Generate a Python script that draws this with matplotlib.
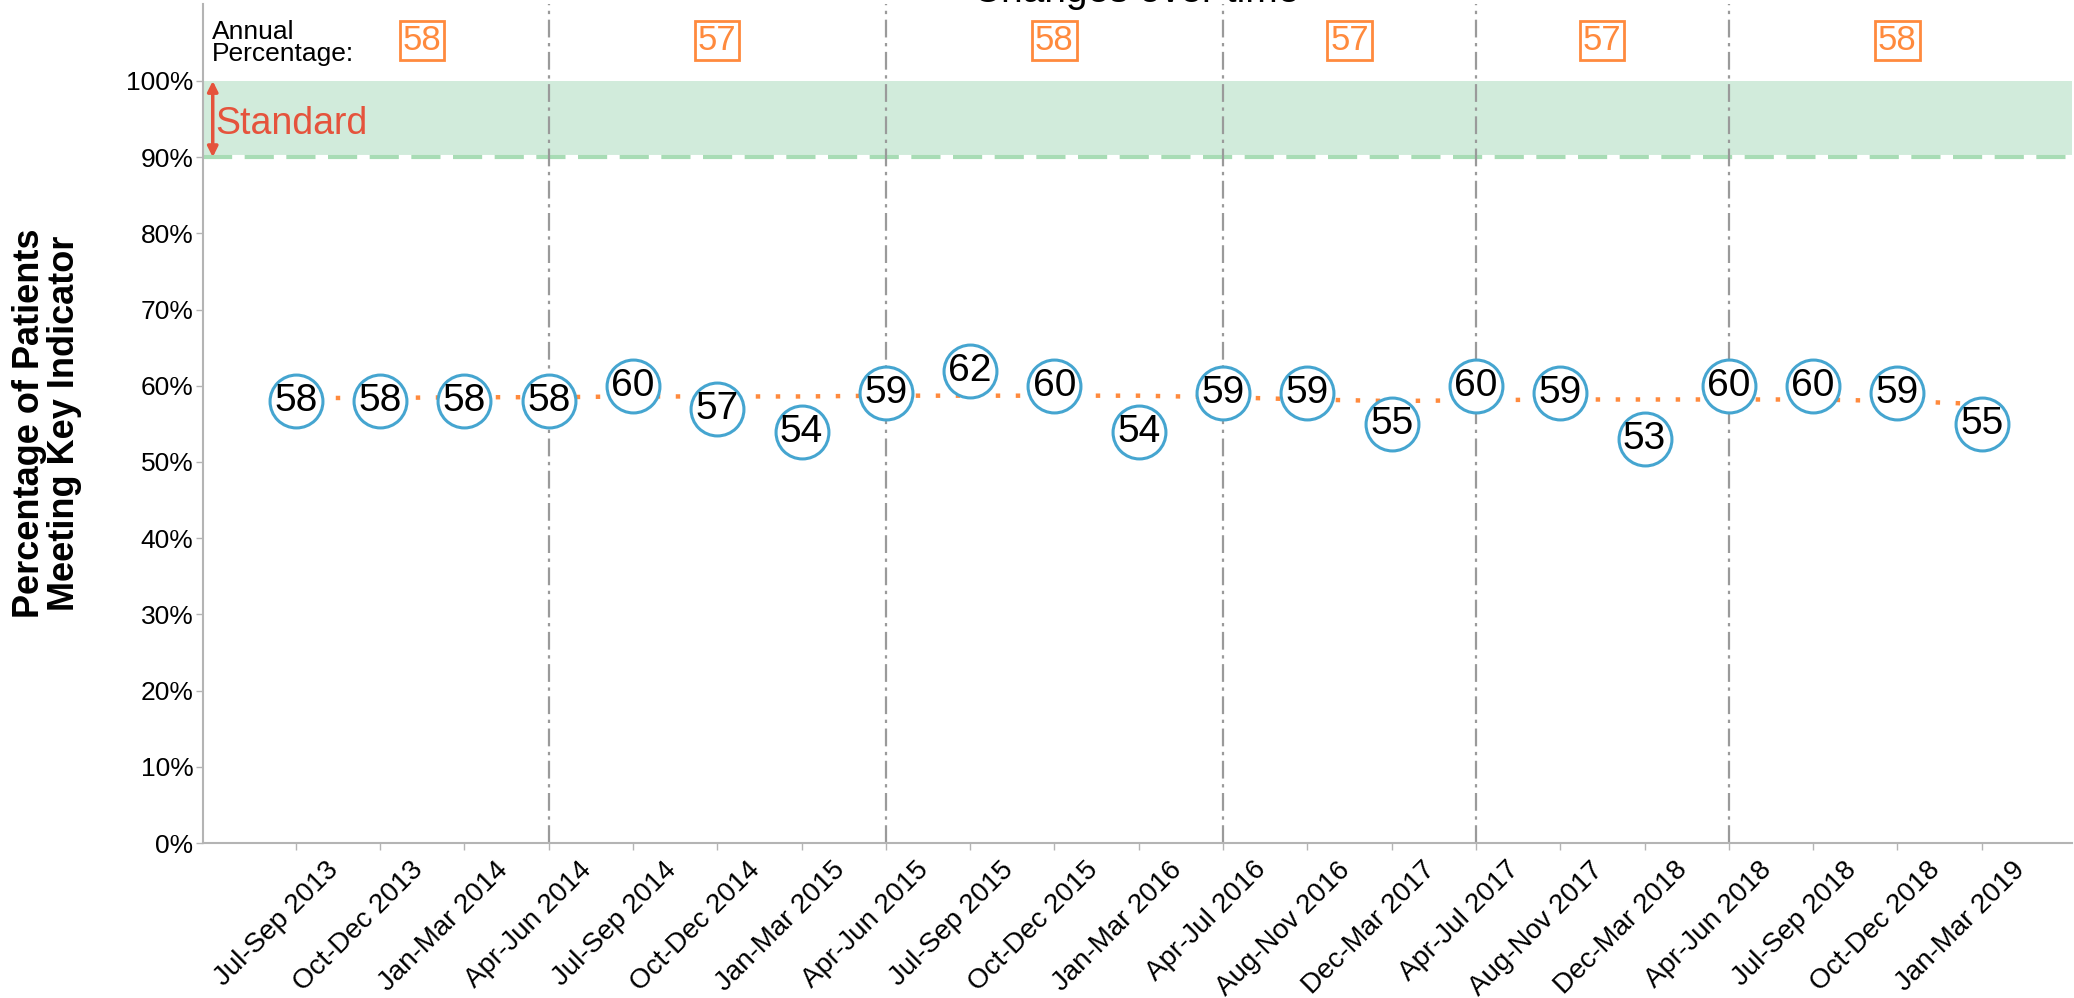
import matplotlib.pyplot as plt
import matplotlib.transforms as mtransforms

plt.rcParams['font.family'] = ['Liberation Sans', 'DejaVu Sans']

# === data ===
quarters = ['Jul-Sep 2013', 'Oct-Dec 2013', 'Jan-Mar 2014', 'Apr-Jun 2014',
            'Jul-Sep 2014', 'Oct-Dec 2014', 'Jan-Mar 2015', 'Apr-Jun 2015',
            'Jul-Sep 2015', 'Oct-Dec 2015', 'Jan-Mar 2016', 'Apr-Jul 2016',
            'Aug-Nov 2016', 'Dec-Mar 2017', 'Apr-Jul 2017', 'Aug-Nov 2017',
            'Dec-Mar 2018', 'Apr-Jun 2018', 'Jul-Sep 2018', 'Oct-Dec 2018',
            'Jan-Mar 2019']
values = [58, 58, 58, 58, 60, 57, 54, 59, 62, 60, 54, 59, 59, 55, 60, 59, 53, 60, 60, 59, 55]
trend = [58.4, 58.4, 58.5, 58.5, 58.6, 58.6, 58.6, 58.7, 58.7, 58.7, 58.7,
         58.5, 58.2, 58.0, 58.1, 58.2, 58.2, 58.2, 58.2, 58.0, 57.6]
year_breaks = [3, 7, 11, 14, 17]          # index of first quarter of each new year
annual_values = [58, 57, 58, 57, 57, 58]
standard_low, standard_high = 90, 100

BLUE = '#45a5d0'
ORANGE = '#ff8a3d'
RED = '#e5533c'
GREEN_FILL = '#d1ebdb'
GREEN_LINE = '#a8dcb5'
GREY = '#9a9a9a'
AXIS_GREY = '#b4b4b4'

fig = plt.figure(figsize=(20.74, 9.98), dpi=100)
ax = fig.add_axes([0.0979, 0.1553, 0.9011, 0.8407])
x = list(range(len(quarters)))

# standard band
ax.axhspan(standard_low, standard_high, color=GREEN_FILL, lw=0, zorder=0)
ax.axhline(standard_low, color='white', lw=3, zorder=1)
ax.axhline(standard_low, color=GREEN_LINE, lw=3, dashes=(7, 3), zorder=1.1)

# year separators
for b in year_breaks:
    ax.axvline(b, color=GREY, lw=1.6, dashes=(8, 2.5, 1.5, 2.5), zorder=2)

# trend + points
ax.plot(x, trend, color=ORANGE, lw=3.2, dashes=(1, 3.5), dash_capstyle='butt', zorder=3)
ax.scatter(x, values, s=1450, facecolor='white', edgecolor=BLUE, linewidth=2.2, zorder=4)
for xi, v in zip(x, values):
    ax.text(xi, v, str(v), ha='center', va='center', fontsize=28, zorder=5)

# annual percentages
edges = [0] + year_breaks + [len(quarters)]
centers = [(a + b) / 2 for a, b in zip(edges[:-1], edges[1:])]
for c, v in zip(centers, annual_values):
    ax.text(c, 105.3, str(v), color=ORANGE, fontsize=25, ha='center', va='center',
            bbox=dict(boxstyle='square,pad=0.08', fc='white', ec=ORANGE, lw=2))
ax.text(-0.99, 105.0, 'Annual\nPercentage:', fontsize=19, ha='left', va='center', linespacing=0.9)

# standard arrow
ax.annotate('', xy=(-0.985, standard_high), xytext=(-0.985, standard_low),
            arrowprops=dict(arrowstyle='<|-|>', color=RED, lw=2.5, mutation_scale=15,
                            shrinkA=0, shrinkB=0), zorder=6)
ax.text(-0.95, 94.3, 'Standard', color=RED, fontsize=27, ha='left', va='center')

# axes
ax.set_xlim(-1.1, 21.07)
ax.set_ylim(0, 110.1)
for s in ['top', 'right']:
    ax.spines[s].set_visible(False)
for s in ['left', 'bottom']:
    ax.spines[s].set_color(AXIS_GREY)
    ax.spines[s].set_linewidth(1.5)
ax.set_yticks(range(0, 101, 10))
ax.set_yticklabels([f'{v}%' for v in range(0, 101, 10)], fontsize=19)
ax.set_xticks(x)
ax.set_xticklabels(quarters, fontsize=20, rotation=45, ha='right', va='top', rotation_mode='anchor')
ax.tick_params(colors=AXIS_GREY, labelcolor='black', length=5, width=1)
ax.tick_params(axis='y', pad=2)
offset = mtransforms.ScaledTranslation(30 / 100, -2 / 100, fig.dpi_scale_trans)
for lab in ax.get_xticklabels():
    lab.set_transform(lab.get_transform() + offset)

fig.text(0.0227, 0.576, 'Percentage of Patients\nMeeting Key Indicator', rotation=90,
         ha='center', va='center', fontsize=26, fontweight='bold', linespacing=1.0)
fig.text(0.548, 0.998, 'Changes over time', ha='center', va='baseline', fontsize=28)

fig.savefig('out.png', dpi=100)
